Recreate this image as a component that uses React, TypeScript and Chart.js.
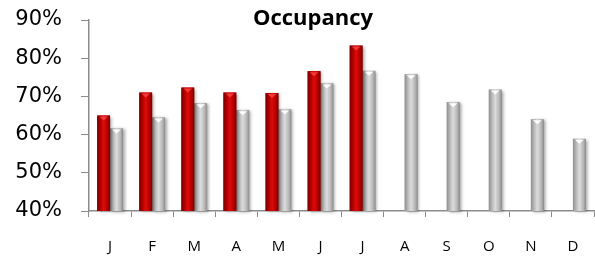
import React, { useEffect, useRef } from "react";
import { Chart, registerables } from "chart.js";

Chart.register(...registerables);

const months = ["J", "F", "M", "A", "M", "J", "J", "A", "S", "O", "N", "D"];
const currentYear: (number | null)[] = [65, 71, 72.3, 71, 70.9, 76.6, 83.3, null, null, null, null, null];
const previousYear: number[] = [61.6, 64.5, 68.2, 66.4, 66.6, 73.4, 76.7, 75.8, 68.5, 71.8, 64, 58.9];
const yTicks = [40, 50, 60, 70, 80, 90];
const titleText = "Occupancy";

const barStyles = [
  { edge: "#7a0000", mid: "#b00000", center: "#e00a0a", top: "#ff5050" },
  { edge: "#8e8e8e", mid: "#b8b8b8", center: "#dcdcdc", top: "#ffffff" },
];

const barPlugin = {
  id: "barPaint",
  afterDatasetDraw(chart: any, args: any) {
    const ctx = chart.ctx;
    const area = chart.chartArea;
    const style = barStyles[args.index];
    const meta = args.meta;
    ctx.save();
    meta.data.forEach((el: any, i: number) => {
      const v = chart.data.datasets[args.index].data[i];
      if (v === null || v === undefined) return;
      const p = el.getProps(["x", "y", "base", "width"], true);
      const x = p.x;
      const width = p.width;
      const y = p.y;
      const base = Math.min(p.base, area.bottom);
      const left = x - width / 2;
      const right = x + width / 2;
      const g = ctx.createLinearGradient(left, 0, right, 0);
      g.addColorStop(0, style.edge);
      g.addColorStop(0.25, style.mid);
      g.addColorStop(0.5, style.center);
      g.addColorStop(0.8, style.mid);
      g.addColorStop(1, style.edge);
      ctx.save();
      ctx.shadowColor = "rgba(0,0,0,0.35)";
      ctx.shadowBlur = 3;
      ctx.shadowOffsetX = 2;
      ctx.shadowOffsetY = 1;
      ctx.fillStyle = g;
      ctx.fillRect(left, y, width, base - y);
      ctx.restore();
      ctx.fillStyle = style.top;
      ctx.globalAlpha = args.index === 0 ? 0.7 : 0.95;
      ctx.beginPath();
      ctx.moveTo(left + 2, y + 1);
      ctx.lineTo(right - 2, y + 1);
      ctx.lineTo(x, y + 5);
      ctx.closePath();
      ctx.fill();
      ctx.globalAlpha = 1;
    });
    ctx.restore();
  },
};

const titlePlugin = {
  id: "insideTitle",
  afterDraw(chart: any) {
    const ctx = chart.ctx;
    ctx.save();
    ctx.font = "bold 22px 'Open Sans'";
    ctx.fillStyle = "#000";
    ctx.textAlign = "center";
    ctx.textBaseline = "middle";
    ctx.fillText(titleText, 313, 19);
    ctx.restore();
  },
};

export default function App() {
  const ref = useRef<HTMLCanvasElement>(null);
  useEffect(() => {
    document.body.style.margin = "0";
    const chart = new Chart(ref.current!, {
      type: "bar",
      data: {
        labels: months,
        datasets: [
          { label: "Current", data: currentYear, backgroundColor: "#c00000" },
          { label: "Previous", data: previousYear, backgroundColor: "#bfbfbf" },
        ],
      },
      options: {
        animation: false,
        responsive: false,
        maintainAspectRatio: false,
        layout: { padding: { top: 20, right: 1, left: 0, bottom: 0 } },
        datasets: { bar: { categoryPercentage: 0.61, barPercentage: 1.0 } },
        plugins: { legend: { display: false }, tooltip: { enabled: false }, title: { display: false } },
        scales: {
          x: {
            offset: true,
            grid: { display: true, offset: true, drawOnChartArea: false, drawTicks: true, tickLength: 6, color: "#8c8c8c" },
            border: { display: true, color: "#8c8c8c", width: 1.5 },
            ticks: { color: "#000", font: { family: "'Open Sans'", size: 15 }, padding: 21 },
            afterFit(scale: any) {
              scale.height = 46;
              scale.paddingLeft = 0;
              scale.paddingRight = 0;
            },
          },
          y: {
            min: 40,
            max: 90,
            afterBuildTicks(scale: any) {
              scale.ticks = yTicks.map((v) => ({ value: v }));
            },
            grid: { display: true, drawOnChartArea: false, drawTicks: true, tickLength: 8, color: "#8c8c8c" },
            border: { display: true, color: "#8c8c8c", width: 1.5 },
            ticks: {
              color: "#000",
              font: { family: "'DejaVu Sans'", size: 21 },
              padding: 19,
              callback: (v: any) => v + "%",
            },
            afterFit(scale: any) {
              scale.width = 89;
              scale.paddingTop = 0;
              scale.paddingBottom = 0;
            },
          },
        },
      },
      plugins: [barPlugin, titlePlugin],
    });
    return () => chart.destroy();
  }, []);
  return <canvas ref={ref} width={595} height={257} style={{ display: "block" }} />;
}
